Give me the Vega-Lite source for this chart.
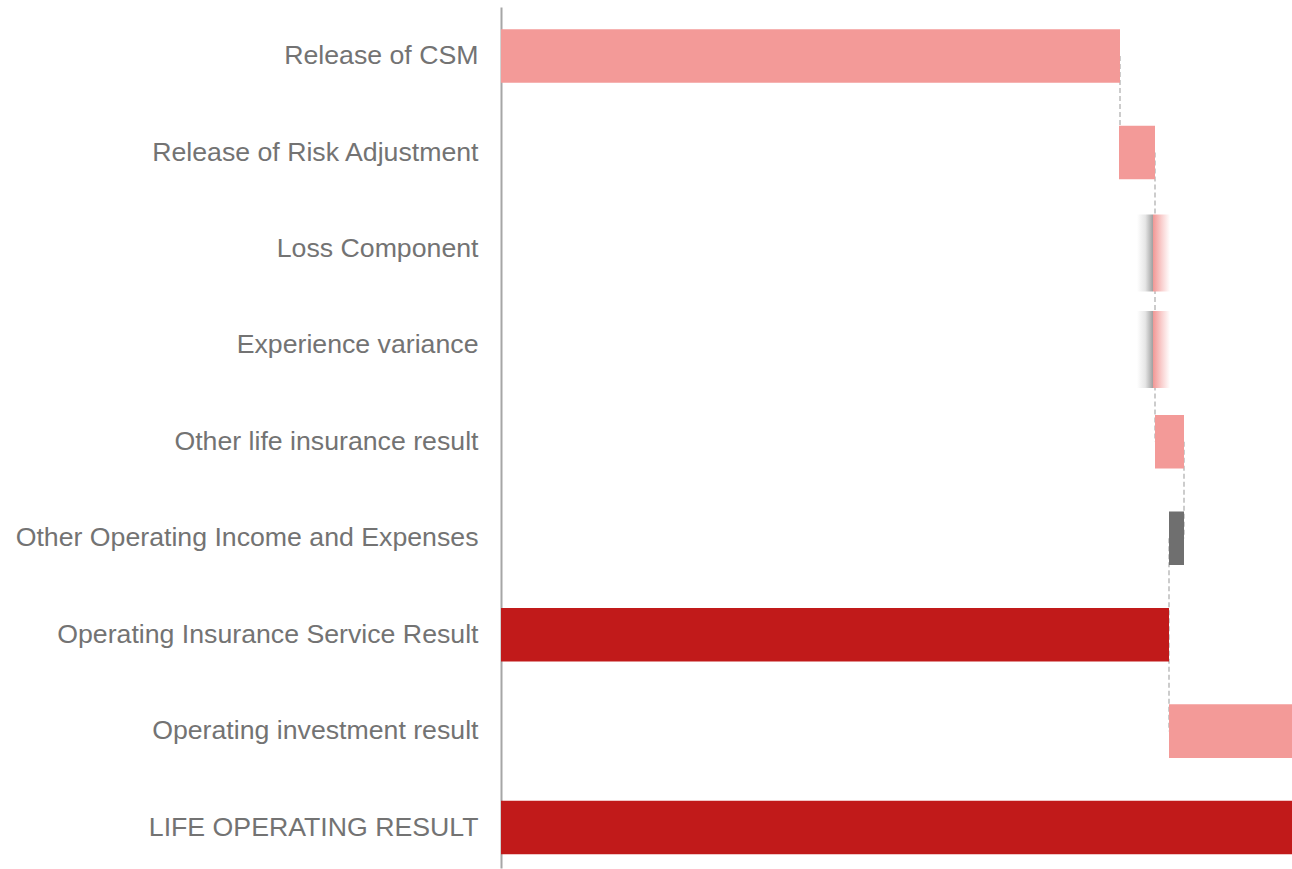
{
  "$schema": "https://vega.github.io/schema/vega-lite/v6.json",
  "autosize": "none",
  "padding": {"left": 501, "top": 7, "right": 0, "bottom": 1},
  "width": 791,
  "height": 861,
  "config": {"view": {"stroke": null}, "font": "Liberation Sans"},
  "datasets": {
    "bars": [
      {"item": "Release of CSM", "start": 0, "end": 619, "kind": "increase"},
      {"item": "Release of Risk Adjustment", "start": 618, "end": 654, "kind": "increase"},
      {"item": "Loss Component", "start": 636, "end": 669, "kind": "mixed"},
      {"item": "Experience variance", "start": 636, "end": 669, "kind": "mixed"},
      {"item": "Other life insurance result", "start": 654, "end": 683, "kind": "increase"},
      {"item": "Other Operating Income and Expenses", "start": 683, "end": 668, "kind": "decrease"},
      {"item": "Operating Insurance Service Result", "start": 0, "end": 668, "kind": "total"},
      {"item": "Operating investment result", "start": 668, "end": 791, "kind": "increase"},
      {"item": "LIFE OPERATING RESULT", "start": 0, "end": 791, "kind": "total"}
    ],
    "links": [
      {"from": "Release of CSM", "to": "Release of Risk Adjustment", "level": 619},
      {"from": "Release of Risk Adjustment", "to": "Loss Component", "level": 654},
      {"from": "Loss Component", "to": "Experience variance", "level": 654},
      {"from": "Experience variance", "to": "Other life insurance result", "level": 654},
      {"from": "Other life insurance result", "to": "Other Operating Income and Expenses", "level": 683},
      {"from": "Other Operating Income and Expenses", "to": "Operating Insurance Service Result", "level": 668},
      {"from": "Operating Insurance Service Result", "to": "Operating investment result", "level": 668}
    ]
  },
  "encoding": {
    "y": {
      "field": "item",
      "type": "nominal",
      "sort": null,
      "scale": {
        "domain": ["Release of CSM", "Release of Risk Adjustment", "Loss Component", "Experience variance", "Other life insurance result", "Other Operating Income and Expenses", "Operating Insurance Service Result", "Operating investment result", "LIFE OPERATING RESULT"],
        "paddingInner": 0.445,
        "paddingOuter": 0.1866,
        "align": 0.62
      },
      "axis": {
        "title": null,
        "ticks": false,
        "tickSize": 0,
        "labelPadding": 23,
        "labelFontSize": 26.7,
        "labelColor": "#737373",
        "labelFont": "Liberation Sans",
        "labelLimit": 0,
        "domainColor": "#a6a6a6",
        "domainWidth": 2,
        "grid": false
      }
    }
  },
  "layer": [
    {
      "data": {"name": "links"},
      "mark": {"type": "rule", "color": "#bcbcbc", "strokeWidth": 1.5, "strokeDash": [5, 3]},
      "encoding": {
        "y": {"field": "from", "type": "nominal"},
        "y2": {"field": "to"},
        "x": {"field": "level", "type": "quantitative", "scale": {"domain": [0, 791], "nice": false, "zero": true}, "axis": null}
      }
    },
    {
      "data": {"name": "bars"},
      "transform": [{"filter": "datum.kind !== 'mixed'"}],
      "mark": {"type": "bar", "cornerRadius": 0},
      "encoding": {
        "x": {"field": "start", "type": "quantitative", "scale": {"domain": [0, 791], "nice": false, "zero": true}, "axis": null},
        "x2": {"field": "end"},
        "color": {
          "field": "kind",
          "type": "nominal",
          "scale": {"domain": ["increase", "decrease", "total"], "range": ["#f39a98", "#6f6f6f", "#c11a1a"]},
          "legend": null
        }
      }
    },
    {
      "data": {"name": "bars"},
      "transform": [{"filter": "datum.kind === 'mixed'"}],
      "mark": {
        "type": "bar",
        "height": 77,
        "yOffset": 4,
        "fill": {
          "gradient": "linear",
          "x1": 0, "x2": 1, "y1": 0, "y2": 0,
          "stops": [
            {"offset": 0, "color": "#ffffff"},
            {"offset": 0.25, "color": "#e6e6e6"},
            {"offset": 0.5, "color": "#9a9a9a"},
            {"offset": 0.5, "color": "#f29a98"},
            {"offset": 0.75, "color": "#f9d0cf"},
            {"offset": 1, "color": "#ffffff"}
          ]
        }
      },
      "encoding": {
        "x": {"field": "start", "type": "quantitative", "scale": {"domain": [0, 791], "nice": false, "zero": true}, "axis": null},
        "x2": {"field": "end"}
      }
    }
  ]
}
